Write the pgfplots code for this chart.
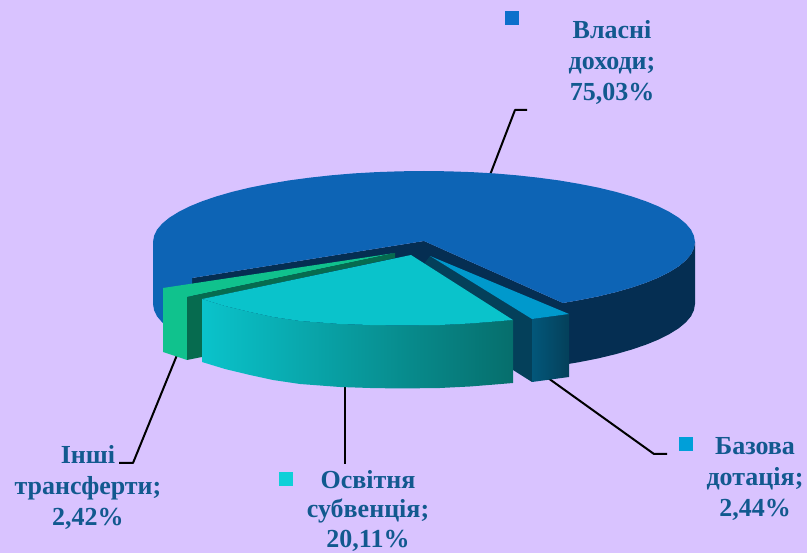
\documentclass[border=0pt]{standalone}
\usepackage{fontspec}
\setmainfont{Liberation Serif}
\usepackage{pgfplots}
\pgfplotsset{compat=1.18}
\definecolor{bgc}{HTML}{D9C3FF}
\definecolor{txt}{HTML}{12598F}
\definecolor{topblue}{HTML}{0D64B5}
\definecolor{navy}{HTML}{052E52}
\definecolor{green1}{HTML}{10C28D}
\definecolor{green2}{HTML}{066B4F}
\definecolor{cyan1}{HTML}{0AC3CB}
\definecolor{cyanr}{HTML}{066E6C}
\definecolor{cyanm}{HTML}{089FA3}
\definecolor{lblue}{HTML}{0099CC}
\definecolor{teal1}{HTML}{04405A}
\definecolor{teal2}{HTML}{03577A}
\definecolor{keyblue}{HTML}{0D6FCB}
\definecolor{keycyan}{HTML}{0FD0D8}
\definecolor{keylb}{HTML}{009FD9}
\begin{document}
\begin{tikzpicture}[x=1pt,y=1pt]
\useasboundingbox (0,0) rectangle (807,553);
\begin{axis}[at={(0,0)},anchor=south west,scale only axis,width=807pt,height=553pt,
  xmin=0,xmax=807,ymin=0,ymax=553,y dir=reverse,axis lines=none,clip=true,
  every axis plot/.append style={line join=round}]
% background
\addplot[fill=bgc,draw=none] coordinates {(0,0)(807,0)(807,553)(0,553)};
% leader lines
\addplot[black,line width=2pt] coordinates {(527,110)(515,110)(490,175)};
\addplot[black,line width=2pt] coordinates {(177,355)(133,463)(119,463)};
\addplot[black,line width=2pt] coordinates {(345,385)(345,464)};
\addplot[black,line width=2pt] coordinates {(548,378)(654,454)(667,454)};
% right wall of the large slice
\addplot[fill=navy,draw=none] coordinates {(695,242)(693.9,248.2)(691,254.3)(685.8,260.4)(678.7,266.3)(669.5,272)(658.7,277.5)(646,282.7)(631.6,287.6)(615.6,292.2)(598.2,296.4)(579.4,300.1)(563,303)(559.5,365.5)(579.4,362.1)(598.2,358.4)(615.6,354.2)(631.6,349.6)(646,344.7)(658.7,339.5)(669.5,334)(678.7,328.3)(685.8,322.4)(691,316.3)(693.9,310.2)(695,304)};
% inner face of the large slice
\addplot[fill=navy,draw=none] coordinates {(192,278)(424,241)(563,303)(565,340)(300,340)(192,340)};
% top and left wall of the large slice
\addplot[fill=topblue,draw=none] coordinates {(563,303)(579.4,300.1)(598.2,296.4)(615.6,292.2)(631.6,287.6)(646,282.7)(658.7,277.5)(669.5,272)(678.7,266.3)(685.8,260.4)(691,254.3)(693.9,248.2)(695,242)(693.9,235.8)(691,229.7)(685.8,223.6)(678.7,217.7)(669.5,212)(658.7,206.5)(646,201.3)(631.6,196.4)(615.6,191.8)(598.2,187.6)(579.4,183.9)(559.5,180.5)(538.6,177.7)(516.7,175.3)(494.2,173.4)(471.1,172.1)(447.6,171.3)(424,171)(400.4,171.3)(376.9,172.1)(353.8,173.4)(331.3,175.3)(309.4,177.7)(288.5,180.5)(268.6,183.9)(249.8,187.6)(232.4,191.8)(216.4,196.4)(202,201.3)(189.3,206.5)(178.5,212)(169.3,217.7)(162.2,223.6)(157,229.7)(154.1,235.8)(153,242)(153,304)(154.1,310.2)(157,316.3)(162.2,322.4)(169.3,328.3)(178.5,334)(192,341)(192,278)(424,241)};
% green slice
\addplot[fill=green1,draw=none] coordinates {(163,288)(395,253)(187,297)(187,360)(163,352)};
\addplot[fill=green2,draw=none] coordinates {(187,297)(395,253)(395,258)(202,299)(202,357)(187,360)};
% light blue slice
\addplot[fill=teal1,draw=none] coordinates {(430,256)(532,319)(532,382)(513,370)(513,320)(424,264)};
\addplot[draw=none,shade,left color=teal2,right color=teal1] coordinates {(532,319)(569,314)(569,377)(532,382)};
\addplot[fill=lblue,draw=none] coordinates {(430,256)(569,314)(532,319)};
% cyan slice
\addplot[draw=none,shade,left color=cyan1,middle color=cyanm,right color=cyanr] coordinates {(202,299)(225,306)(250,312)(273,317)(300,321)(340,324)(370,325)(400,325.5)(440,325)(470,323.5)(495,321.5)(513,320)(513,383)(495,384.5)(470,386.5)(440,388)(400,388.5)(370,388)(340,387)(300,384)(273,380)(250,375)(225,369)(202,362)};
\addplot[fill=cyan1,draw=none] coordinates {(411,255)(202,299)(225,306)(250,312)(273,317)(300,321)(340,324)(370,325)(400,325.5)(440,325)(470,323.5)(495,321.5)(513,320)};
% legend keys
\addplot[only marks,mark=square*,mark size=6.5pt,mark options={fill=keyblue,draw=keyblue,line width=0pt},forget plot] coordinates {(512,18)};
\addplot[only marks,mark=square*,mark size=6.5pt,mark options={fill=keycyan,draw=keycyan,line width=0pt},forget plot] coordinates {(285.5,479.5)};
\addplot[only marks,mark=square*,mark size=6.5pt,mark options={fill=keylb,draw=keylb,line width=0pt},forget plot] coordinates {(686,444.5)};
\tikzset{lab/.style={align=center,text=txt,font=\fontsize{26}{31}\selectfont\bfseries,inner sep=0pt}}
\node[lab] at (axis cs:612,62) {Власні\\доходи;\\75,03\%};
\node[lab] at (axis cs:88,487) {Інші\\трансферти;\\2,42\%};
\node[lab,font=\fontsize{26}{29.5}\selectfont\bfseries] at (axis cs:368,510.5) {Освітня\\субвенція;\\20,11\%};
\node[lab] at (axis cs:755,479) {Базова\\дотація;\\2,44\%};
\end{axis}
\end{tikzpicture}
\end{document}
